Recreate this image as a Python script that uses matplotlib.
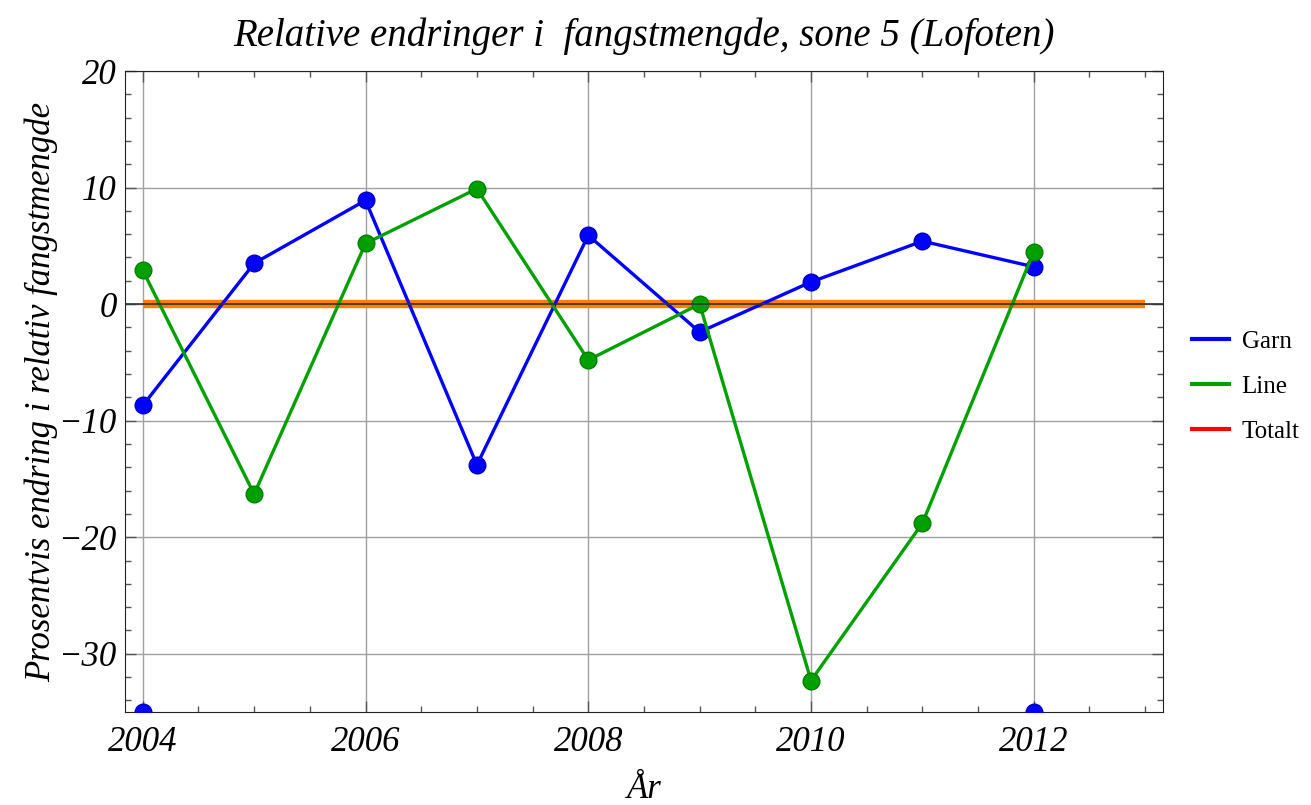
import numpy as np
import matplotlib.pyplot as plt
from matplotlib.lines import Line2D
from matplotlib.ticker import MultipleLocator

# Data
years = [2004, 2005, 2006, 2007, 2008, 2009, 2010, 2011, 2012]
garn = [-8.7, 3.5, 8.9, -13.8, 5.9, -2.4, 1.9, 5.4, 3.2]
line = [2.9, -16.3, 5.2, 9.9, -4.8, 0.0, -32.3, -18.8, 4.5]
# out-of-range Garn points shown clipped at the bottom edge
garn_extra_years = [2004, 2012]
garn_extra = [-35, -35]
totalt_years = [2004, 2005, 2006, 2007, 2008, 2009, 2010, 2011, 2012, 2013]
totalt = [0, 0, 0, 0, 0, 0, 0, 0, 0, 0]

plt.rcParams['font.family'] = ['Liberation Serif', 'DejaVu Serif']

fig = plt.figure(figsize=(13.11, 8.05), dpi=100)
ax = fig.add_axes([0.0953, 0.1155, 0.7918, 0.7963])

blue = '#0000ff'
green = '#00a000'
orange = '#ff8000'

ax.plot(totalt_years, totalt, color=orange, lw=6, solid_capstyle='butt', zorder=2)
ax.plot(years, garn, color=blue, lw=2.4, marker='o', ms=12,
        mfc=blue, mec='#0000c0', zorder=3)
ax.plot(years, line, color=green, lw=2.4, marker='o', ms=12,
        mfc=green, mec='#008000', zorder=4)
ax.plot(garn_extra_years, garn_extra, ls='none', marker='o', ms=12,
        mfc=blue, mec='#0000c0', zorder=3, clip_on=True)
ax.axhline(0, color='#333333', lw=1.2, zorder=5)

ax.set_xlim(2003.84, 2013.16)
ax.set_ylim(-35, 20)
ax.xaxis.set_major_locator(MultipleLocator(2))
ax.xaxis.set_minor_locator(MultipleLocator(0.5))
ax.yaxis.set_major_locator(MultipleLocator(10))
ax.yaxis.set_minor_locator(MultipleLocator(2))
ax.grid(True, which='major', color='#a0a0a0', lw=1.0)
ax.set_axisbelow(True)

ax.tick_params(which='both', direction='in', top=True, right=True,
               labelsize=25)
ax.tick_params(which='major', length=8, width=1, color='#555555')
ax.tick_params(which='minor', length=4, width=1, color='#555555')
ax.xaxis.set_major_formatter(plt.FuncFormatter(lambda v, p: '%d' % v))
ax.yaxis.set_major_formatter(
    plt.FuncFormatter(lambda v, p: ('\u2212%d' % -v) if v < 0 else '%d' % v))
for lab in ax.get_xticklabels() + ax.get_yticklabels():
    lab.set_fontstyle('italic')
ax.tick_params(axis='x', pad=10)
ax.tick_params(axis='y', pad=6)
for spine in ax.spines.values():
    spine.set_color('#222222')

ax.set_title('Relative endringer i  fangstmengde, sone 5 (Lofoten)',
             fontsize=28, fontstyle='italic', pad=18)
ax.set_xlabel('År', fontsize=25, fontstyle='italic', labelpad=10)
ax.set_ylabel('Prosentvis endring i relativ fangstmengde', fontsize=25,
              fontstyle='italic', labelpad=0)

handles = [Line2D([], [], color=blue, lw=3),
           Line2D([], [], color=green, lw=3),
           Line2D([], [], color='#ff0000', lw=3)]
fig.legend(handles, ['Garn', 'Line', 'Totalt'], loc='center left',
           bbox_to_anchor=(0.909, 0.52), frameon=False, fontsize=18,
           handlelength=1.5, handletextpad=0.5, labelspacing=0.9,
           borderpad=0, borderaxespad=0)

fig.savefig('out.png', dpi=100)
